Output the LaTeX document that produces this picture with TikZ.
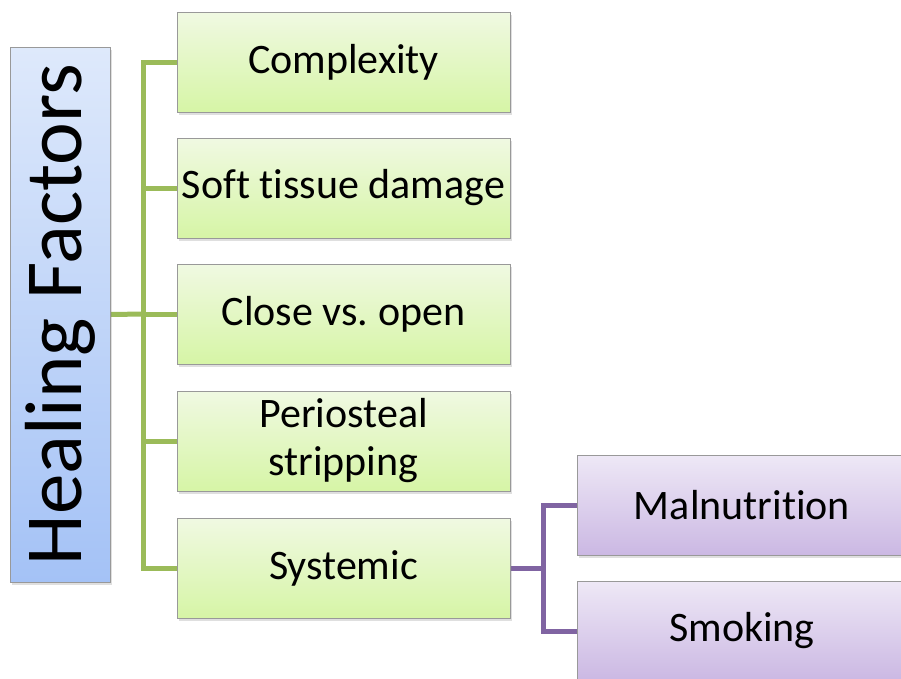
\documentclass[tikz,border=0pt]{standalone}
\usepackage{fontspec}
\setmainfont{Carlito}[Ligatures=NoCommon]
\usetikzlibrary{shadows,backgrounds}

\definecolor{gline}{RGB}{155,187,89}
\definecolor{pline}{RGB}{128,100,162}

\begin{document}
\begin{tikzpicture}[x=1pt,y=-1pt,
    box/.style={draw=black!40,line width=1pt,inner sep=0pt,align=center,
      font=\fontsize{42}{48}\selectfont,
      drop shadow={opacity=0.25,shadow xshift=2pt,shadow yshift=-3pt}},
    rootbox/.style={box,top color={rgb,255:red,222;green,233;blue,251},
      bottom color={rgb,255:red,164;green,194;blue,246},
      minimum width=535pt,minimum height=100pt,rotate=90,font=\fontsize{81}{90}\selectfont},
    factorbox/.style={box,top color={rgb,255:red,240;green,249;blue,226},
      bottom color={rgb,255:red,214;green,245;blue,166},minimum width=333pt,minimum height=100pt},
    subbox/.style={box,top color={rgb,255:red,238;green,232;blue,246},
      bottom color={rgb,255:red,203;green,184;blue,227},minimum width=330pt,minimum height=100pt},
    glink/.style={draw=gline,line width=5pt},
    plink/.style={draw=pline,line width=5pt}]
  \useasboundingbox (0,0) rectangle (901,678);
  \clip (0,0) rectangle (901,678);

  \node[rootbox] (hf) at (60,314.5) {Healing Factors};

  \node[factorbox] (cplx)  at (343.5,62)  {Complexity};
  \node[factorbox] (soft)  at (343.5,188) {Soft tissue damage};
  \node[factorbox] (close) at (343.5,314) {Close vs.\ open};
  \node[factorbox] (perio) at (343.5,441) {Periosteal\\stripping};
  \node[factorbox] (syst)  at (343.5,568) {Systemic};

  \node[subbox] (maln) at (742,505) {Malnutrition};
  \node[subbox] (smok) at (742,631) {Smoking};

  \coordinate (gtrunk) at (143,314);
  \coordinate (ptrunk) at (543,568);

  \begin{scope}[on background layer]
    % green tree
    \draw[glink] (hf.south) -- (gtrunk);
    \draw[glink] (cplx.west) -| (gtrunk |- syst.west) -- (syst.west);
    \foreach \n in {soft,close,perio}
      \draw[glink] (gtrunk |- \n.west) -- (\n.west);
    % purple tree
    \draw[plink] (syst.east) -- (ptrunk);
    \draw[plink] (maln.west) -| (ptrunk |- smok.west) -- (smok.west);
  \end{scope}
\end{tikzpicture}
\end{document}
